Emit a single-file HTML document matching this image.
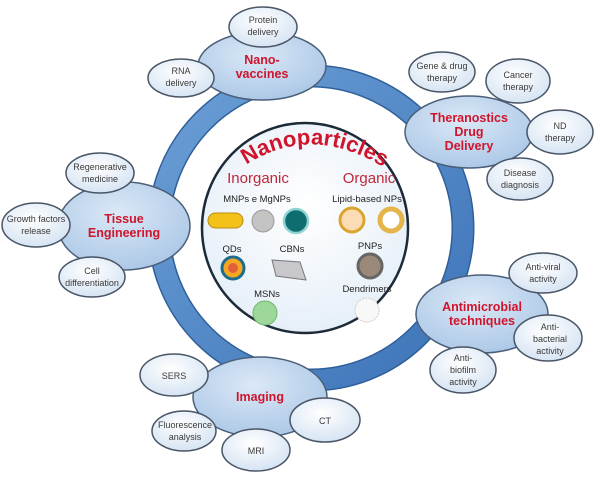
<!DOCTYPE html>
<html><head><meta charset="utf-8"><style>
html,body{margin:0;padding:0;background:#fff;}
svg{display:block;}
text{font-family:"Liberation Sans",sans-serif;}
.s{font-size:9px;fill:#3a3a3a;text-anchor:middle;}
.b{font-size:12.5px;font-weight:bold;fill:#d0142c;text-anchor:middle;}
.i{font-size:9.5px;fill:#222;text-anchor:middle;}
</style></head><body>
<svg width="600" height="481" viewBox="0 0 600 481" xmlns="http://www.w3.org/2000/svg">
<defs>
<radialGradient id="big" cx="45%" cy="35%" r="70%"><stop offset="0" stop-color="#dbe8f6"/><stop offset="1" stop-color="#a9c6e6"/></radialGradient>
<radialGradient id="sm" cx="45%" cy="35%" r="70%"><stop offset="0" stop-color="#ffffff"/><stop offset="1" stop-color="#d3e2f2"/></radialGradient>
<radialGradient id="inn" cx="50%" cy="40%" r="60%"><stop offset="0" stop-color="#ffffff"/><stop offset="1" stop-color="#e6eff8"/></radialGradient>
<linearGradient id="ring" x1="0" y1="0" x2="1" y2="1"><stop offset="0" stop-color="#6c9fd6"/><stop offset="1" stop-color="#3d74b8"/></linearGradient>
<path id="arc" d="M236,172 Q310,116 394,174"/>
</defs>
<circle cx="311" cy="228" r="152" fill="none" stroke="#2f5f9a" stroke-width="23"/>
<circle cx="311" cy="228" r="152" fill="none" stroke="url(#ring)" stroke-width="20"/>
<ellipse cx="305" cy="228" rx="103" ry="105" fill="url(#inn)" stroke="#1d2a38" stroke-width="2.5"/>
<text font-size="22" font-weight="bold" fill="#d0142c"><textPath href="#arc" startOffset="50%" text-anchor="middle">Nanoparticles</textPath></text>
<text x="258" y="183" font-size="15" fill="#c0283a" text-anchor="middle">Inorganic</text>
<text x="369" y="183" font-size="15" fill="#c0283a" text-anchor="middle">Organic</text>
<text x="257" y="202" class="i">MNPs e MgNPs</text>
<text x="367" y="202" class="i">Lipid-based NPs</text>
<rect x="208" y="213" width="35" height="15" rx="7.5" fill="#f2c21a" stroke="#b88a10"/>
<circle cx="263" cy="221" r="11" fill="#c4c4c4" stroke="#999"/>
<circle cx="296" cy="221" r="12" fill="#0e6d6e" stroke="#8fd3d3" stroke-width="2.5"/>
<circle cx="352" cy="220" r="12" fill="#fbdcb5" stroke="#d9a530" stroke-width="3"/>
<circle cx="391" cy="220" r="11" fill="#fff" stroke="#e4b54a" stroke-width="5"/>
<text x="232" y="252" class="i">QDs</text>
<text x="292" y="252" class="i">CBNs</text>
<text x="370" y="249" class="i">PNPs</text>
<circle cx="233" cy="268" r="11" fill="#f5a623" stroke="#1d6d8a" stroke-width="3"/>
<circle cx="233" cy="268" r="5" fill="#e0603a"/>
<polygon points="272,260 300,262 306,280 276,276" fill="#c8c8cc" stroke="#777"/>
<circle cx="370" cy="266" r="12" fill="#9a8878" stroke="#666" stroke-width="3"/>
<text x="267" y="297" class="i">MSNs</text>
<text x="367" y="292" class="i">Dendrimers</text>
<circle cx="265" cy="313" r="12" fill="#9dd89a" stroke="#6cb86a"/>
<circle cx="367" cy="310" r="12" fill="#f8f8f8" stroke="#ccc" stroke-dasharray="2 1"/>
<g stroke="#4a5f78" stroke-width="1.5" fill="url(#big)">
<ellipse cx="262" cy="66" rx="64" ry="34"/>
<ellipse cx="469" cy="132" rx="64" ry="36"/>
<ellipse cx="124" cy="226" rx="66" ry="44"/>
<ellipse cx="482" cy="314" rx="66" ry="39"/>
<ellipse cx="260" cy="397" rx="67" ry="40"/>
</g>
<g stroke="#4a5566" stroke-width="1.5" fill="url(#sm)">
<ellipse cx="263" cy="27" rx="34" ry="20"/>
<ellipse cx="181" cy="78" rx="33" ry="19"/>
<ellipse cx="442" cy="72" rx="33" ry="20"/>
<ellipse cx="518" cy="81" rx="32" ry="22"/>
<ellipse cx="560" cy="132" rx="33" ry="22"/>
<ellipse cx="520" cy="179" rx="33" ry="21"/>
<ellipse cx="100" cy="173" rx="34" ry="20"/>
<ellipse cx="36" cy="225" rx="34" ry="22"/>
<ellipse cx="92" cy="277" rx="33" ry="20"/>
<ellipse cx="543" cy="273" rx="34" ry="20"/>
<ellipse cx="548" cy="338" rx="34" ry="23"/>
<ellipse cx="463" cy="370" rx="33" ry="23"/>
<ellipse cx="174" cy="375" rx="34" ry="21"/>
<ellipse cx="184" cy="431" rx="32" ry="20"/>
<ellipse cx="256" cy="450" rx="34" ry="21"/>
<ellipse cx="325" cy="420" rx="35" ry="22"/>
</g>
<text x="262" y="64" class="b">Nano-</text><text x="262" y="78" class="b">vaccines</text>
<text x="469" y="122" class="b">Theranostics</text><text x="469" y="136" class="b">Drug</text><text x="469" y="150" class="b">Delivery</text>
<text x="124" y="223" class="b">Tissue</text><text x="124" y="237" class="b">Engineering</text>
<text x="482" y="311" class="b">Antimicrobial</text><text x="482" y="325" class="b">techniques</text>
<text x="260" y="401" class="b">Imaging</text>
<text x="263" y="23" class="s">Protein</text><text x="263" y="35" class="s">delivery</text>
<text x="181" y="74" class="s">RNA</text><text x="181" y="86" class="s">delivery</text>
<text x="442" y="69" class="s">Gene &amp; drug</text><text x="442" y="81" class="s">therapy</text>
<text x="518" y="78" class="s">Cancer</text><text x="518" y="90" class="s">therapy</text>
<text x="560" y="129" class="s">ND</text><text x="560" y="141" class="s">therapy</text>
<text x="520" y="176" class="s">Disease</text><text x="520" y="188" class="s">diagnosis</text>
<text x="100" y="170" class="s">Regenerative</text><text x="100" y="182" class="s">medicine</text>
<text x="36" y="222" class="s">Growth factors</text><text x="36" y="234" class="s">release</text>
<text x="92" y="274" class="s">Cell</text><text x="92" y="286" class="s">differentiation</text>
<text x="543" y="270" class="s">Anti-viral</text><text x="543" y="282" class="s">activity</text>
<text x="550" y="330" class="s">Anti-</text><text x="550" y="342" class="s">bacterial</text><text x="550" y="354" class="s">activity</text>
<text x="463" y="361" class="s">Anti-</text><text x="463" y="373" class="s">biofilm</text><text x="463" y="385" class="s">activity</text>
<text x="174" y="379" class="s">SERS</text>
<text x="185" y="428" class="s">Fluorescence</text><text x="185" y="440" class="s">analysis</text>
<text x="256" y="454" class="s">MRI</text>
<text x="325" y="424" class="s">CT</text>
</svg>
</body></html>
